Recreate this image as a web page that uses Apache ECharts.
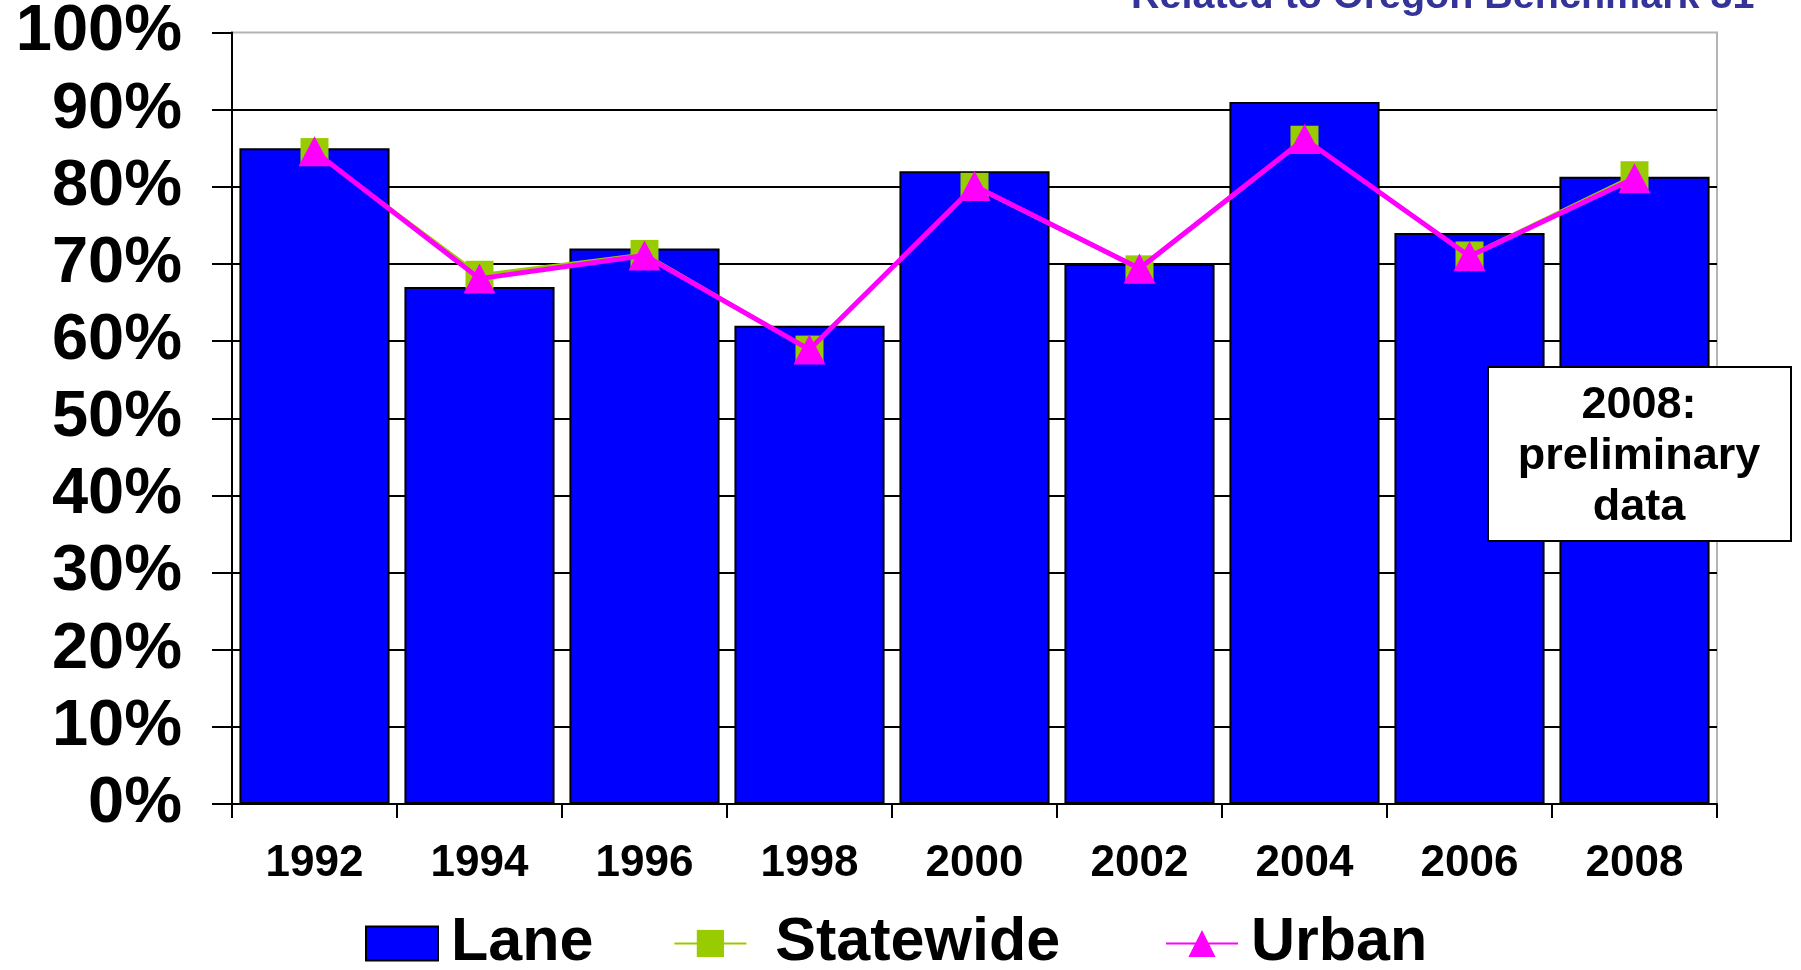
<!DOCTYPE html>
<html>
<head>
<meta charset="utf-8">
<script src="https://cdn.jsdelivr.net/npm/echarts@6/dist/echarts.min.js"></script>
<style>
  html, body { margin: 0; padding: 0; background: #fff; }
  #main { width: 1801px; height: 970px; }
</style>
</head>
<body>
<div id="main"></div>
<script>
// data
var years = ['1992', '1994', '1996', '1998', '2000', '2002', '2004', '2006', '2008'];
var lane = [85, 67, 72, 62, 82, 70, 91, 74, 81.3];
var statewide = [84.5, 68.6, 71.3, 58.9, 80.0, 69.3, 86.1, 71.1, 81.5];
var urban = [84.6, 68.1, 71.1, 58.9, 80.1, 69.4, 86.2, 71.0, 81.1];
var yTicks = [0, 10, 20, 30, 40, 50, 60, 70, 80, 90, 100];

var font = '"Liberation Sans", Arial, sans-serif';
var legendText = { fontFamily: font, fontSize: 61, fontWeight: 'bold', color: '#000', padding: [0, 0, 0, 8] };

var chart = echarts.init(document.getElementById('main'));

var option = {
  animation: false,
  grid: {
    left: 232, right: 84, top: 29, bottom: 166,
    show: true, borderColor: '#b4b4b4', borderWidth: 2, backgroundColor: '#fff'
  },
  // two legends so the gap before "Urban" can match the picture
  legend: [
    {
      left: 360, top: 908,
      itemWidth: 72, itemHeight: 34, itemGap: 80,
      textStyle: legendText,
      data: [
        { name: 'Lane', icon: 'rect', itemStyle: { borderColor: '#000', borderWidth: 2 } },
        { name: 'Statewide', textStyle: { padding: [0, 0, 0, 24] } }
      ]
    },
    {
      left: 1160, top: 908,
      itemWidth: 72, itemHeight: 34,
      textStyle: legendText,
      data: [{ name: 'Urban', textStyle: { padding: [0, 0, 0, 8] } }]
    }
  ],
  xAxis: {
    type: 'category',
    data: years,
    boundaryGap: true,
    axisLine: { lineStyle: { color: '#000', width: 2 } },
    axisTick: { show: true, length: 14, inside: false, lineStyle: { color: '#000', width: 2 } },
    axisLabel: { fontFamily: font, fontSize: 44, fontWeight: 'bold', color: '#000', margin: 38 }
  },
  yAxis: {
    type: 'value',
    min: 0, max: 100, interval: 10,
    axisLine: { show: true, lineStyle: { color: '#000', width: 2 } },
    axisTick: { show: true, length: 20, lineStyle: { color: '#000', width: 2 } },
    splitLine: { show: true, showMaxLine: false, lineStyle: { color: '#000', width: 2 } },
    axisLabel: {
      fontFamily: font, fontSize: 65, fontWeight: 'bold', color: '#000', margin: 50,
      formatter: function (v) { return yTicks.indexOf(v) >= 0 ? v + '%' : ''; }
    }
  },
  series: [
    {
      name: 'Lane', type: 'bar', data: lane,
      barCategoryGap: '9%',
      itemStyle: { color: '#0000ff', borderColor: '#000', borderWidth: 2 }
    },
    {
      name: 'Statewide', type: 'line', data: statewide,
      symbol: 'rect', symbolSize: 28, showAllSymbol: true,
      lineStyle: { color: '#99cc00', width: 3 },
      itemStyle: { color: '#99cc00' }, z: 3
    },
    {
      name: 'Urban', type: 'line', data: urban,
      symbol: 'triangle', symbolSize: [32, 30], showAllSymbol: true,
      lineStyle: { color: '#ff00ff', width: 5 },
      itemStyle: { color: '#ff00ff' }, z: 4
    }
  ],
  graphic: [
    {
      type: 'text', left: 1131, top: -23, z: 100,
      style: { text: 'Related to Oregon Benchmark 31', font: 'bold 39.5px ' + font, fill: '#333399' }
    },
    {
      type: 'rect', left: 1487, top: 366, z: 100,
      shape: { x: 0, y: 0, width: 303, height: 174 },
      style: { fill: '#fff', stroke: '#000', lineWidth: 2 }
    },
    {
      type: 'text', x: 1639, y: 457, z: 101,
      style: {
        text: '2008:\npreliminary\ndata', font: 'bold 45px ' + font, fill: '#000',
        align: 'center', verticalAlign: 'middle', textAlign: 'center', textVerticalAlign: 'middle',
        lineHeight: 51
      }
    }
  ]
};

chart.setOption(option);
</script>
</body>
</html>
